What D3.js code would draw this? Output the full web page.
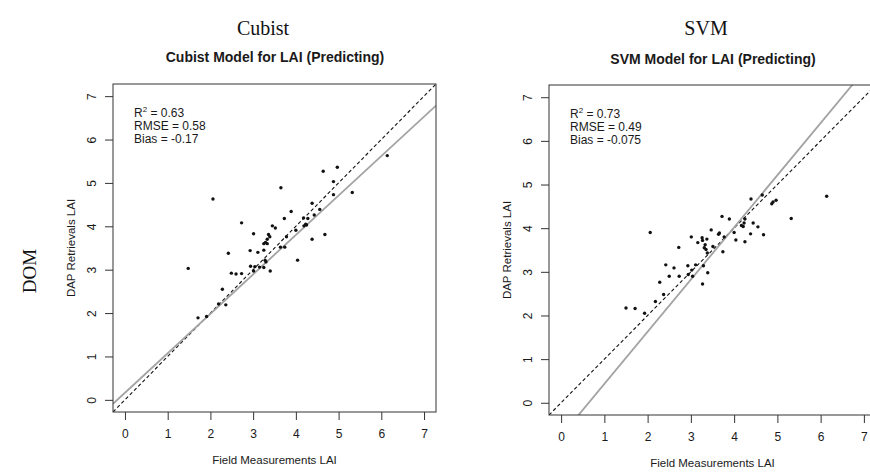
<!DOCTYPE html>
<html>
<head>
<meta charset="utf-8">
<script src="https://cdn.jsdelivr.net/npm/d3@7"></script>
<style>
  body { margin: 0; background: #fff; }
  text { font-family: "Liberation Sans", Arial, sans-serif; fill: #1a1a1a; }
</style>
</head>
<body>
<div id="chart"></div>
<script>
// ---- data ----
const axisTicks = [0, 1, 2, 3, 4, 5, 6, 7];

const cubistField = [1.48, 1.71, 1.91, 2.06, 2.19, 2.28, 2.36, 2.42, 2.49, 2.60, 2.73, 2.73, 2.93, 2.94,
  3.01, 3.01, 3.04, 3.11, 3.15, 3.25, 3.25, 3.25, 3.28, 3.30, 3.29, 3.33, 3.33, 3.36, 3.39, 3.40,
  3.45, 3.52, 3.64, 3.65, 3.74, 3.73, 3.78, 3.89, 4.00, 4.04, 4.18, 4.19, 4.23, 4.25, 4.28, 4.38,
  4.38, 4.43, 4.56, 4.68, 4.64, 4.88, 4.88, 4.97, 5.32, 6.14];
const cubistDAP = [3.03, 1.89, 1.92, 4.63, 2.21, 2.55, 2.19, 3.38, 2.92, 2.90, 2.91, 4.08, 3.44, 3.08,
  2.97, 3.83, 3.07, 3.40, 3.06, 3.05, 3.45, 3.60, 3.22, 3.18, 3.63, 3.60, 3.70, 3.81, 3.76, 2.97,
  4.01, 3.96, 3.52, 4.89, 3.52, 4.18, 3.76, 4.34, 3.91, 3.22, 4.19, 4.01, 4.05, 4.03, 4.18, 3.70,
  4.53, 4.26, 4.39, 3.81, 5.27, 4.73, 5.03, 5.36, 4.78, 5.63];

const svmField = [1.50, 1.71, 1.93, 2.06, 2.18, 2.28, 2.37, 2.42, 2.50, 2.61, 2.72, 2.73, 2.93, 2.94,
  3.01, 3.02, 3.04, 3.11, 3.16, 3.26, 3.27, 3.27, 3.29, 3.31, 3.33, 3.35, 3.37, 3.38, 3.39, 3.47,
  3.51, 3.64, 3.66, 3.72, 3.74, 3.77, 3.89, 4.00, 4.04, 4.17, 4.21, 4.23, 4.25, 4.25, 4.38, 4.39,
  4.44, 4.55, 4.65, 4.68, 4.87, 4.90, 4.97, 5.32, 6.14];
const svmDAP = [2.17, 2.16, 2.05, 3.90, 2.32, 2.76, 2.48, 3.16, 2.90, 3.09, 3.56, 2.90, 3.14, 2.94,
  3.80, 3.04, 2.90, 3.16, 3.67, 3.78, 3.72, 2.72, 3.14, 3.55, 3.62, 3.51, 3.75, 3.43, 2.98, 3.96,
  3.58, 3.86, 3.89, 4.27, 3.46, 3.80, 4.21, 3.90, 3.73, 4.06, 4.04, 4.12, 4.21, 3.69, 3.87, 4.67,
  4.12, 4.03, 4.76, 3.85, 4.56, 4.60, 4.64, 4.22, 4.73];

// fitted line [intercept, slope]
const cubistFit = [0.165, 0.909];
const svmFit = [-0.762, 1.195];

const cubistStats = ["0.63", "0.58", "-0.17"];
const svmStats = ["0.73", "0.49", "-0.075"];

// ---- layout ----
const width = 870, height = 473;
const svg = d3.select("#chart").append("svg")
  .attr("width", width)
  .attr("height", height);

// column headers and row label
const serif = "'Liberation Serif', 'Times New Roman', serif";
svg.append("text").attr("x", 263).attr("y", 35).attr("text-anchor", "middle")
  .style("font-family", serif).style("font-size", "20px").style("fill", "#111").text("Cubist");
svg.append("text").attr("x", 706).attr("y", 35).attr("text-anchor", "middle")
  .style("font-family", serif).style("font-size", "20px").style("fill", "#111").text("SVM");
svg.append("text").attr("transform", "translate(36,271) rotate(-90)").attr("text-anchor", "middle")
  .style("font-family", serif).style("font-size", "19px").style("fill", "#111").text("DOM");

function drawPanel(id, box, fieldVals, dapVals, fit, stats, title, titleY) {
  const x = d3.scaleLinear().domain([-0.28, 7.28]).range([box.left, box.right]);
  const y = d3.scaleLinear().domain([-0.28, 7.28]).range([box.bottom, box.top]);
  const g = svg.append("g");

  g.append("defs").append("clipPath").attr("id", "clip-" + id)
    .append("rect")
    .attr("x", box.left).attr("y", box.top)
    .attr("width", box.right - box.left).attr("height", box.bottom - box.top);

  // title
  g.append("text")
    .attr("x", (box.left + box.right) / 2 + 0.5)
    .attr("y", titleY)
    .attr("text-anchor", "middle")
    .style("font-size", "14px")
    .style("font-weight", "bold")
    .text(title);

  // x axis
  const xAxis = g.append("g")
    .attr("transform", `translate(0,${box.bottom})`)
    .call(d3.axisBottom(x).tickValues(axisTicks).tickSize(8).tickSizeOuter(0).tickPadding(9).tickFormat(d3.format("d")));
  xAxis.select(".domain").remove();
  xAxis.selectAll("line").attr("stroke", "#333");
  xAxis.selectAll("text").style("font-size", "12px").style("font-family", "'Liberation Sans', Arial, sans-serif").attr("fill", "#1a1a1a");

  // y axis, labels rotated like R's default
  const yAxis = g.append("g")
    .attr("transform", `translate(${box.left},0)`)
    .call(d3.axisLeft(y).tickValues(axisTicks).tickSize(8).tickSizeOuter(0).tickFormat(d3.format("d")));
  yAxis.select(".domain").remove();
  yAxis.selectAll("line").attr("stroke", "#333");
  yAxis.selectAll("text")
    .attr("x", null).attr("dy", null)
    .attr("text-anchor", "middle")
    .attr("transform", "translate(-17,0) rotate(-90)")
    .style("font-size", "12px").style("font-family", "'Liberation Sans', Arial, sans-serif").attr("fill", "#1a1a1a");

  // axis titles
  g.append("text")
    .attr("x", (box.left + box.right) / 2)
    .attr("y", box.bottom + 52)
    .attr("text-anchor", "middle")
    .style("font-size", "11.5px")
    .text("Field Measurements LAI");
  g.append("text")
    .attr("transform", `translate(${box.left - 38},${(box.top + box.bottom) / 2}) rotate(-90)`)
    .attr("text-anchor", "middle")
    .style("font-size", "11.5px")
    .text("DAP Retrievals LAI");

  const plot = g.append("g").attr("clip-path", `url(#clip-${id})`);

  // 1:1 line
  const dom = x.domain();
  plot.append("line")
    .attr("x1", x(dom[0])).attr("y1", y(dom[0]))
    .attr("x2", x(dom[1])).attr("y2", y(dom[1]))
    .attr("stroke", "#111").attr("stroke-width", 1.1)
    .attr("stroke-dasharray", "3.5,2.5");

  // fitted line
  plot.append("line")
    .attr("x1", x(dom[0])).attr("y1", y(fit[0] + fit[1] * dom[0]))
    .attr("x2", x(dom[1])).attr("y2", y(fit[0] + fit[1] * dom[1]))
    .attr("stroke", "#a3a3a3").attr("stroke-width", 1.8);

  // points
  plot.selectAll("circle")
    .data(fieldVals.map((f, i) => [f, dapVals[i]]))
    .join("circle")
    .attr("cx", d => x(d[0]))
    .attr("cy", d => y(d[1]))
    .attr("r", 1.7)
    .attr("fill", "#111");

  // stats
  const sx = box.left + 21;
  const t1 = g.append("text").attr("x", sx).attr("y", box.top + 33).style("font-size", "12px");
  t1.append("tspan").text("R");
  t1.append("tspan").attr("dy", -5).style("font-size", "8px").text("2");
  t1.append("tspan").attr("dy", 5).text(" = " + stats[0]);
  g.append("text").attr("x", sx).attr("y", box.top + 46).style("font-size", "12px")
    .text("RMSE = " + stats[1]);
  g.append("text").attr("x", sx).attr("y", box.top + 59).style("font-size", "12px")
    .text("Bias = " + stats[2]);

  // frame
  g.append("rect")
    .attr("x", box.left).attr("y", box.top)
    .attr("width", box.right - box.left).attr("height", box.bottom - box.top)
    .attr("fill", "none").attr("stroke", "#333").attr("stroke-width", 1);
}

drawPanel("cubist", { left: 113, right: 436, top: 84, bottom: 412 },
  cubistField, cubistDAP, cubistFit, cubistStats, "Cubist Model for LAI (Predicting)", 62);
drawPanel("svm", { left: 549, right: 876, top: 85, bottom: 415 },
  svmField, svmDAP, svmFit, svmStats, "SVM Model for LAI (Predicting)", 64);
</script>
</body>
</html>
